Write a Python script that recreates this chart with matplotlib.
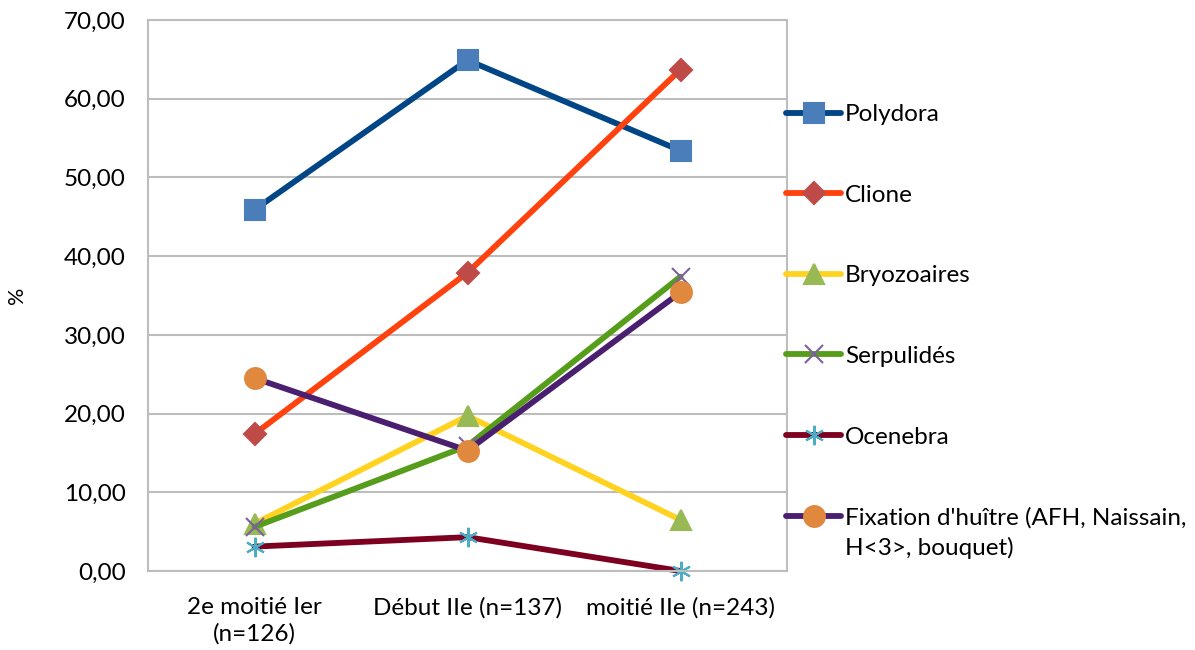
import matplotlib.pyplot as plt
from matplotlib.ticker import FuncFormatter

plt.rcParams['font.family'] = ['Lato', 'DejaVu Sans']

categories = ['2e moitié Ier\n(n=126)', 'Début IIe (n=137)', 'moitié IIe (n=243)']

polydora = [45.9, 64.9, 53.4]
clione = [17.4, 37.9, 63.7]
bryozoaires = [6.0, 19.7, 6.5]
serpulides = [5.6, 15.9, 37.4]
ocenebra = [3.1, 4.3, 0.0]
fixation = [24.5, 15.3, 35.4]

series = [
    ('Polydora', polydora, '#004586', '#4A7EBB', 's', 14),
    ('Clione', clione, '#FF420E', '#BE4B48', 'D', 11),
    ('Bryozoaires', bryozoaires, '#FFD320', '#98B954', '^', 15),
    ('Serpulidés', serpulides, '#579D1C', '#7D60A0', 'x', 13),
    ('Ocenebra', ocenebra, '#7E0021', '#4BACC6', (6, 2, 0), 14),
    ("Fixation d'huître (AFH, Naissain,", fixation, '#4B1F6F', '#E0883E', 'o', 15),
]

fs = 17.5

fig = plt.figure(figsize=(11.95, 6.5), dpi=100)
ax = fig.add_axes([148 / 1195, 1 - 571 / 650, 639 / 1195, 551 / 650])

x = list(range(len(categories)))
for name, vals, lc, mc, mk, ms in series:
    ax.plot(x, vals, color=lc, linewidth=4.2, marker=mk, markersize=ms,
            markerfacecolor=mc, markeredgecolor=mc, markeredgewidth=1.5,
            label=name, solid_capstyle='round', clip_on=False)

ax.set_xlim(-0.5, 2.5)
ax.set_ylim(0, 70)
ax.set_yticks(range(0, 71, 10))
ax.yaxis.set_major_formatter(FuncFormatter(lambda v, p: f'{v:.2f}'.replace('.', ',')))
ax.set_xticks(x)
ax.set_xticklabels(categories, linespacing=1.25)
ax.tick_params(axis='both', labelsize=fs, length=0, colors='black')
ax.tick_params(axis='x', pad=19)
ax.tick_params(axis='y', pad=16)
ax.grid(axis='y', color='#BDBDBD', linewidth=1.5)
ax.set_axisbelow(True)
for s in ax.spines.values():
    s.set_color('#BDBDBD')
    s.set_linewidth(1.5)
ax.set_ylabel('%', fontsize=fs - 2)
ax.yaxis.set_label_coords(-0.19, 0.5)

leg = ax.legend(loc='upper left', bbox_to_anchor=(0.9985, 0.847), frameon=False,
                fontsize=fs, handlelength=2.26, handletextpad=0.17,
                labelspacing=2.45, borderaxespad=0, borderpad=0)
ax.annotate('H<3>, bouquet)', xy=(0, 0), xycoords=leg.get_texts()[-1],
            xytext=(0, -6), textcoords='offset points', va='top', ha='left',
            fontsize=fs, annotation_clip=False, zorder=10)

fig.savefig('out.png', dpi=100)
